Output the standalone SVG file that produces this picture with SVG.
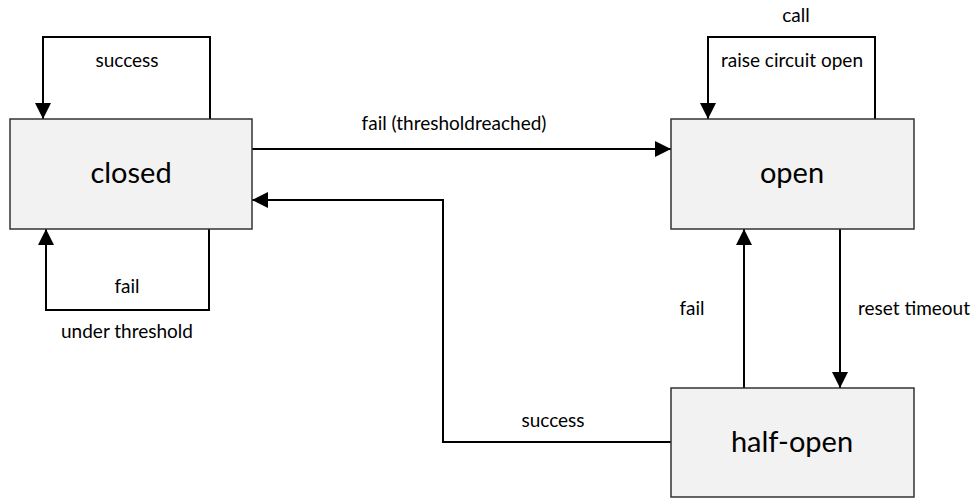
<svg xmlns="http://www.w3.org/2000/svg" width="973" height="498" viewBox="0 0 973 498">
  <style>
    .state rect { fill: #f2f2f2; stroke: #333333; stroke-width: 1.5; }
    .state text { font-family: Lato, "Open Sans", sans-serif; font-size: 29px; fill: #000; text-anchor: middle; }
    .edge { fill: none; stroke: #000; stroke-width: 2; }
    .label { font-family: Lato, "Open Sans", sans-serif; font-size: 19px; fill: #000; text-anchor: middle; }
    .label.start { text-anchor: start; }
  </style>
  <defs>
    <marker id="arrow" viewBox="0 0 16 16" refX="16" refY="8" markerWidth="16" markerHeight="16" markerUnits="userSpaceOnUse" orient="auto">
      <path d="M0,0 L16,8 L0,16 Z" fill="#000"/>
    </marker>
  </defs>
  <rect width="973" height="498" fill="#fff"/>

  <!-- connectors -->
  <g id="connectors">
    <path class="edge" d="M210,119 V37 H43 V119" marker-end="url(#arrow)"/>
    <path class="edge" d="M209,229 V310 H46 V229" marker-end="url(#arrow)"/>
    <path class="edge" d="M252,149 H671" marker-end="url(#arrow)"/>
    <path class="edge" d="M671,442 H443 V200 H252" marker-end="url(#arrow)"/>
    <path class="edge" d="M875,119 V37 H708 V119" marker-end="url(#arrow)"/>
    <path class="edge" d="M744,388 V229" marker-end="url(#arrow)"/>
    <path class="edge" d="M840,229 V388" marker-end="url(#arrow)"/>
  </g>

  <!-- connector labels -->
  <g id="labels">
    <text class="label" x="127" y="67">success</text>
    <text class="label" x="127" y="293">fail</text>
    <text class="label" x="127" y="338">under threshold</text>
    <text class="label" x="454" y="130">fail (thresholdreached)</text>
    <text class="label" x="553" y="427">success</text>
    <text class="label" x="796" y="22">call</text>
    <text class="label" x="792" y="67">raise circuit open</text>
    <text class="label" x="692" y="315">fail</text>
    <text class="label start" x="858" y="315">reset timeout</text>
  </g>

  <g id="closed" class="state">
    <rect x="10" y="119" width="242" height="110"/>
    <text x="131" y="183">closed</text>
  </g>
  <g id="open" class="state">
    <rect x="671" y="119" width="243" height="110"/>
    <text x="792" y="183">open</text>
  </g>
  <g id="half-open" class="state">
    <rect x="671" y="388" width="243" height="109"/>
    <text x="792" y="452">half-open</text>
  </g>
</svg>
